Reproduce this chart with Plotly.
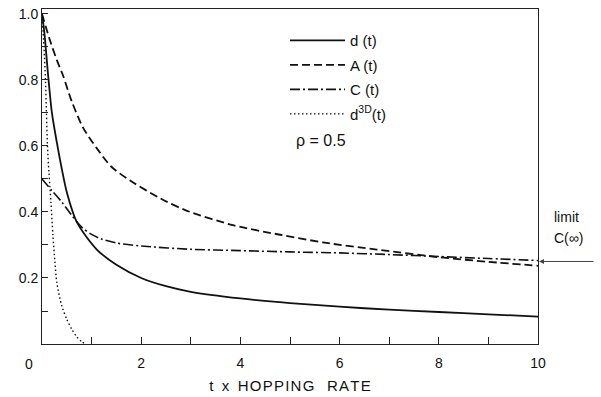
import plotly.graph_objects as go

# ---- data ----
t_d = [0, 0.05, 0.12, 0.2, 0.3, 0.4, 0.5, 0.7, 1.1, 1.5, 2, 2.5, 3, 4, 5, 6, 7, 8, 9, 10]
d_vals = [1.0, 0.94, 0.82, 0.70, 0.61, 0.53, 0.46, 0.37, 0.287, 0.24, 0.20, 0.175, 0.158, 0.138, 0.124, 0.113, 0.104, 0.097, 0.09, 0.083]

t_A = [0, 0.15, 0.3, 0.42, 0.6, 0.83, 1.11, 1.4, 1.8, 2.4, 2.9, 3.85, 4.8, 5.7, 6.75, 8, 9, 10]
A_vals = [1.0, 0.925, 0.86, 0.815, 0.735, 0.655, 0.592, 0.537, 0.493, 0.44, 0.405, 0.36, 0.331, 0.307, 0.286, 0.263, 0.249, 0.237]

t_C = [0, 0.2, 0.4, 0.6, 0.8, 1.0, 1.2, 1.5, 2, 3, 4, 5, 6, 7, 8, 9, 10]
C_vals = [0.50, 0.465, 0.43, 0.39, 0.354, 0.332, 0.318, 0.306, 0.297, 0.287, 0.283, 0.279, 0.276, 0.271, 0.265, 0.259, 0.253]

t_d3 = [0, 0.04, 0.07, 0.09, 0.11, 0.14, 0.18, 0.22, 0.26, 0.3, 0.4, 0.5, 0.6, 0.7, 0.8, 0.88]
d3_vals = [1.0, 0.9, 0.8, 0.7, 0.6, 0.52, 0.43, 0.33, 0.25, 0.185, 0.115, 0.075, 0.045, 0.022, 0.007, 0.0]

c_limit = 0.25

x_tickvals = [2, 4, 6, 8, 10]
x_minor = [1, 3, 5, 7, 9]
y_tickvals = [0.2, 0.4, 0.6, 0.8, 1.0]
y_ticktext = ["0.2", "0.4", "0.6", "0.8", "1.0"]

FONT = "Liberation Sans"
NB = "\u00a0"
HS = "\u200a"
x_title = "t" + NB * 2 + "x" + NB * 2 + HS.join("HOPPING") + NB * 3 + HS.join("RATE")

fig = go.Figure()
fig.add_trace(go.Scatter(x=t_d, y=d_vals, mode="lines", name="d (t)", legendgroup="a",
                         line=dict(color="#111", width=1.8, shape="spline", smoothing=0.8)))
fig.add_trace(go.Scatter(x=t_A, y=A_vals, mode="lines", name="A (t)", legendgroup="b",
                         line=dict(color="#111", width=1.8, dash="8px,4px", shape="spline", smoothing=0.8)))
fig.add_trace(go.Scatter(x=t_C, y=C_vals, mode="lines", name="C (t)", legendgroup="c",
                         line=dict(color="#111", width=1.6, dash="10px,3px,2px,3px", shape="spline", smoothing=0.8)))
fig.add_trace(go.Scatter(x=t_d3, y=d3_vals, mode="lines", name="d<sup>3D</sup>(t)", legendgroup="d",
                         line=dict(color="#111", width=1.4, dash="1.5px,2.5px", shape="spline", smoothing=0.8)))

fig.update_layout(
    width=601, height=397,
    margin=dict(l=42, r=63, t=6, b=50),
    paper_bgcolor="white", plot_bgcolor="white",
    font=dict(family=FONT, size=14, color="#111"),
    showlegend=True,
    legend=dict(x=(285 - 42) / 496, y=0.955, xanchor="left", yanchor="top",
                font=dict(size=15, family=FONT), bgcolor="rgba(0,0,0,0)",
                traceorder="grouped", tracegroupgap=2, itemwidth=55),
    xaxis=dict(range=[0, 10], showline=True, linecolor="#222", linewidth=1, mirror=True,
               ticks="inside", ticklen=7, tickcolor="#222", tickvals=x_tickvals,
               ticktext=[str(v) for v in x_tickvals], ticklabelstandoff=6,
               minor=dict(tickvals=x_minor, ticks="inside", ticklen=7, tickcolor="#222"),
               showgrid=False, zeroline=False,
               title=dict(text=x_title, font=dict(size=15, family=FONT), standoff=10),
               tickfont=dict(size=14)),
    yaxis=dict(range=[0, 1.015], showline=True, linecolor="#222", linewidth=1, mirror=True,
               ticks="inside", ticklen=6, tickcolor="#222", tickvals=y_tickvals, ticktext=y_ticktext,
               minor=dict(dtick=0.1, tick0=0, ticks="inside", ticklen=6, tickcolor="#222"),
               showgrid=False, zeroline=False, tickfont=dict(size=14)),
)

fig.add_annotation(xref="paper", yref="paper", x=-0.026, y=-0.06, text="0", showarrow=False,
                   font=dict(size=14), xanchor="center", yanchor="middle")
fig.add_annotation(xref="paper", yref="paper", x=(321 - 42) / 496, y=1 - (140 - 6) / 341,
                   text="ρ = 0.5", showarrow=False, font=dict(size=16), xanchor="center", yanchor="middle")
fig.add_annotation(xref="paper", yref="paper", x=(552 - 42) / 496, y=1 - (218 - 6) / 341,
                   text="limit", showarrow=False, font=dict(size=14), xanchor="left", yanchor="middle")
fig.add_annotation(xref="paper", yref="paper", x=(552 - 42) / 496, y=1 - (239 - 6) / 341,
                   text="C(∞)", showarrow=False, font=dict(size=14), xanchor="left", yanchor="middle")
fig.add_annotation(x=10, y=c_limit, xref="x", yref="y", text="", showarrow=True,
                   ax=57, ay=0, arrowhead=2, arrowsize=1, arrowwidth=1, arrowcolor="#444",
                   standoff=1)

fig.write_html("out.html", config={"displayModeBar": False},
               post_script="document.body.style.margin='0';")
